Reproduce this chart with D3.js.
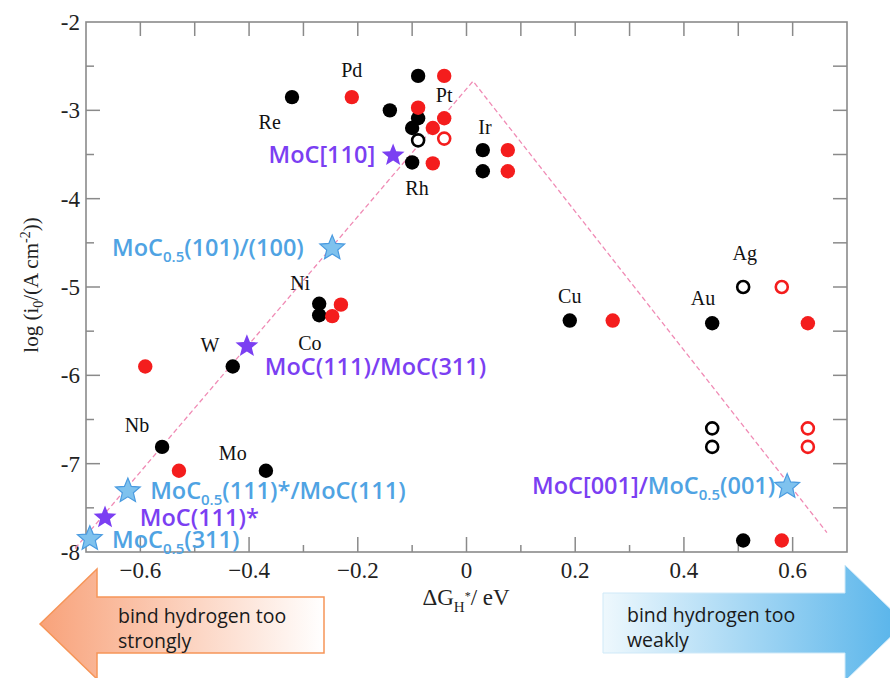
<!DOCTYPE html>
<html><head><meta charset="utf-8">
<script src="https://cdn.jsdelivr.net/npm/d3@7"></script>
<style>body{margin:0;background:#fff}svg{display:block}</style>
</head><body>
<svg id="c" width="890" height="678"></svg>
<script>
// ---- data ----
const blackFilled = [[-0.321,-2.85],[-0.089,-2.61],[-0.141,-3.00],[-0.089,-3.09],[-0.10,-3.20],[-0.10,-3.59],[0.030,-3.45],[0.030,-3.69],[-0.271,-5.19],[-0.271,-5.32],[-0.430,-5.90],[-0.560,-6.81],[-0.369,-7.08],[0.190,-5.38],[0.452,-5.41],[0.509,-7.87]];
const redFilled = [[-0.211,-2.85],[-0.041,-2.61],[-0.089,-2.97],[-0.041,-3.09],[-0.062,-3.20],[-0.062,-3.60],[0.076,-3.45],[0.076,-3.69],[-0.231,-5.20],[-0.247,-5.33],[-0.591,-5.90],[-0.529,-7.08],[0.269,-5.38],[0.628,-5.41],[0.580,-7.87]];
const blackOpen = [[-0.089,-3.34],[0.509,-5.00],[0.452,-6.60],[0.452,-6.81]];
const redOpen = [[-0.041,-3.32],[0.580,-5.00],[0.628,-6.60],[0.628,-6.81]];
const purpleStars = [[-0.135,-3.51],[-0.404,-5.67],[-0.665,-7.61]];
const blueStars = [[-0.247,-4.56],[-0.623,-7.31],[-0.693,-7.85],[0.590,-7.26]];
const volcano = [[-0.72,-7.96],[0.012,-2.67],[0.663,-7.78]];
const elementLabels = [["Pd",-0.211,-2.54],["Re",-0.362,-3.13],["Pt",-0.041,-2.83],["Ir",0.034,-3.19],["Rh",-0.091,-3.88],["Ni",-0.306,-4.96],["Co",-0.288,-5.63],["W",-0.472,-5.66],["Nb",-0.606,-6.56],["Mo",-0.430,-6.88],["Cu",0.190,-5.10],["Au",0.435,-5.12],["Ag",0.512,-4.62]];
const xTickLabels = [-0.6,-0.4,-0.2,0,0.2,0.4,0.6];
const yTickLabels = [-2,-3,-4,-5,-6,-7,-8];

const svg = d3.select("#c");
const x = d3.scaleLinear().domain([-0.7,0.7]).range([86,847]);
const y = d3.scaleLinear().domain([-8,-2]).range([552,22]);
const PURPLE = "#7b3ff2", BLUE = "#4fa3e3", RED = "#f41d1d";

// defs: gradients
const defs = svg.append("defs");
const g1 = defs.append("linearGradient").attr("id","gl").attr("x1","0").attr("x2","1").attr("y1","0").attr("y2","0");
g1.append("stop").attr("offset","0").attr("stop-color","#f8a27a");
g1.append("stop").attr("offset","1").attr("stop-color","#ffffff");
const g2 = defs.append("linearGradient").attr("id","gr").attr("x1","0").attr("x2","1").attr("y1","0").attr("y2","0");
g2.append("stop").attr("offset","0").attr("stop-color","#eef8fd");
g2.append("stop").attr("offset","1").attr("stop-color","#55b3ea");

// arrows
svg.append("path")
  .attr("d","M40,624 L97,569 L97,597 L324,597 L324,653 L97,653 L97,679 Z")
  .attr("fill","url(#gl)").attr("stroke","#f69558").attr("stroke-width",1.5);
svg.append("path")
  .attr("d","M603,593 L845,593 L845,565 L905,623 L845,681 L845,653 L603,653 Z")
  .attr("fill","url(#gr)").attr("stroke","#cfe9f8").attr("stroke-width",1);
const arrowText = [["bind hydrogen too",118,623],["strongly",118,648],["bind hydrogen too",627,622],["weakly",627,647]];
svg.selectAll("text.arr").data(arrowText).join("text").attr("class","arr")
  .attr("x",d=>d[1]).attr("y",d=>d[2]).text(d=>d[0])
  .attr("font-family","'Open Sans', sans-serif").attr("font-size",19.5).attr("fill","#1a1a1a");

// frame
const AX = "#8a8a8a";
svg.append("rect").attr("x",x(-0.7)).attr("y",y(-2)).attr("width",x(0.7)-x(-0.7)).attr("height",y(-8)-y(-2))
  .attr("fill","none").attr("stroke",AX).attr("stroke-width",1.6);

// bottom ticks
const bt = d3.range(-6,7).map(i=>i/10);
svg.selectAll("line.bt").data(bt).join("line")
  .attr("x1",d=>x(d)).attr("x2",d=>x(d)).attr("y1",y(-8))
  .attr("y2",(d,i)=> y(-8) - (i%2===0?15:7)).attr("stroke",AX).attr("stroke-width",1.5);
// top ticks
svg.selectAll("line.tt").data(bt).join("line")
  .attr("x1",d=>x(d)).attr("x2",d=>x(d)).attr("y1",y(-2))
  .attr("y2",y(-2)+14).attr("stroke",AX).attr("stroke-width",1.5);
// left ticks
const lt = d3.range(-15,-4).map(i=>i/2);
svg.selectAll("line.lt").data(lt).join("line")
  .attr("y1",d=>y(d)).attr("y2",d=>y(d)).attr("x1",x(-0.7))
  .attr("x2",d=> x(-0.7) + (Number.isInteger(d)?14:8)).attr("stroke",AX).attr("stroke-width",1.5);
// right ticks
svg.selectAll("line.rt").data(lt).join("line")
  .attr("y1",d=>y(d)).attr("y2",d=>y(d)).attr("x1",x(0.7))
  .attr("x2",x(0.7)-14).attr("stroke",AX).attr("stroke-width",1.5);

// tick labels
svg.selectAll("text.xt").data(xTickLabels).join("text")
  .attr("x",d=>x(d)).attr("y",578).attr("text-anchor","middle")
  .attr("font-family","'Liberation Serif', serif").attr("font-size",23).attr("fill","#222")
  .text(d=> d===0 ? "0" : d3.format(".1f")(d));
svg.selectAll("text.yt").data(yTickLabels).join("text")
  .attr("x",80).attr("y",d=>y(d)+8).attr("text-anchor","end")
  .attr("font-family","'Liberation Serif', serif").attr("font-size",23).attr("fill","#222")
  .text(d=>d);

// axis titles
const xl = svg.append("text").attr("x",466).attr("y",605).attr("text-anchor","middle")
  .attr("font-family","'Liberation Serif', serif").attr("font-size",23).attr("fill","#222");
xl.append("tspan").text("ΔG");
xl.append("tspan").attr("dy",7).attr("font-size",15).text("H");
xl.append("tspan").attr("dy",-12).attr("font-size",12).text("*");
xl.append("tspan").attr("dy",5).text("/ eV");

const yl = svg.append("text").attr("transform","translate(38,285) rotate(-90)").attr("text-anchor","middle")
  .attr("font-family","'Liberation Serif', serif").attr("font-size",21).attr("fill","#222");
yl.append("tspan").text("log (i");
yl.append("tspan").attr("dy",5).attr("font-size",14).text("0");
yl.append("tspan").attr("dy",-5).text("/(A cm");
yl.append("tspan").attr("dy",-8).attr("font-size",14).text("-2");
yl.append("tspan").attr("dy",8).text("))");

// volcano line
svg.append("path").attr("d",d3.line().x(d=>x(d[0])).y(d=>y(d[1]))(volcano))
  .attr("fill","none").attr("stroke","#f08bb5").attr("stroke-width",1.3).attr("stroke-dasharray","5,3");

// element labels
svg.selectAll("text.el").data(elementLabels).join("text")
  .attr("x",d=>x(d[1])).attr("y",d=>y(d[2])+7).attr("text-anchor","middle")
  .attr("font-family","'Liberation Serif', serif").attr("font-size",20).attr("fill","#111")
  .text(d=>d[0]);

// circles
svg.selectAll("circle.bf").data(blackFilled).join("circle")
  .attr("cx",d=>x(d[0])).attr("cy",d=>y(d[1])).attr("r",7.2).attr("fill","#000");
svg.selectAll("circle.rf").data(redFilled).join("circle")
  .attr("cx",d=>x(d[0])).attr("cy",d=>y(d[1])).attr("r",7.2).attr("fill",RED);
svg.selectAll("circle.bo").data(blackOpen).join("circle")
  .attr("cx",d=>x(d[0])).attr("cy",d=>y(d[1])).attr("r",6).attr("fill","#fff").attr("stroke","#000").attr("stroke-width",2.6);
svg.selectAll("circle.ro").data(redOpen).join("circle")
  .attr("cx",d=>x(d[0])).attr("cy",d=>y(d[1])).attr("r",6).attr("fill","#fff").attr("stroke",RED).attr("stroke-width",2.6);

// stars
function star(r, ri){
  const pts=[];
  for(let i=0;i<10;i++){
    const a = -Math.PI/2 + i*Math.PI/5;
    const rr = i%2===0 ? r : ri;
    pts.push([rr*Math.cos(a), rr*Math.sin(a)]);
  }
  return "M"+pts.map(p=>p[0].toFixed(2)+","+p[1].toFixed(2)).join("L")+"Z";
}
svg.selectAll("path.ps").data(purpleStars).join("path")
  .attr("transform",d=>`translate(${x(d[0])},${y(d[1])})`)
  .attr("d",star(12,5.2)).attr("fill",PURPLE);
svg.selectAll("path.bs").data(blueStars).join("path")
  .attr("transform",d=>`translate(${x(d[0])},${y(d[1])})`)
  .attr("d",star(13,5.8)).attr("fill","#7fc2ee").attr("stroke","#4a9be0").attr("stroke-width",1.2);

// star labels
const LF = "'Open Sans', sans-serif";
function lab(px, py, anchor, parts){
  const t = svg.append("text").attr("x",px).attr("y",py+8).attr("text-anchor",anchor)
    .attr("font-family",LF).attr("font-weight",600).attr("font-size",23.5);
  parts.forEach(p=>{
    const s = t.append("tspan").attr("fill",p.c).text(p.t);
    if(p.sub){ s.attr("font-size",15).attr("dy",6); }
    if(p.back){ s.attr("dy",-6); }
  });
}
lab(x(-0.168), y(-3.51), "end", [{t:"MoC[110]",c:PURPLE}]);
lab(x(-0.652), y(-4.56), "start", [{t:"MoC",c:BLUE},{t:"0.5",c:BLUE,sub:true},{t:"(101)/(100)",c:BLUE,back:true}]);
lab(x(-0.371), y(-5.91), "start", [{t:"MoC(111)/MoC(311)",c:PURPLE}]);
lab(x(-0.582), y(-7.31), "start", [{t:"MoC",c:BLUE},{t:"0.5",c:BLUE,sub:true},{t:"(111)*/MoC(111)",c:BLUE,back:true}]);
lab(x(-0.601), y(-7.61), "start", [{t:"MoC(111)*",c:PURPLE}]);
lab(x(-0.652), y(-7.86), "start", [{t:"MoC",c:BLUE},{t:"0.5",c:BLUE,sub:true},{t:"(311)",c:BLUE,back:true}]);
lab(x(0.568), y(-7.25), "end", [{t:"MoC[001]/",c:PURPLE},{t:"MoC",c:BLUE},{t:"0.5",c:BLUE,sub:true},{t:"(001)",c:BLUE,back:true}]);
</script>
</body></html>
